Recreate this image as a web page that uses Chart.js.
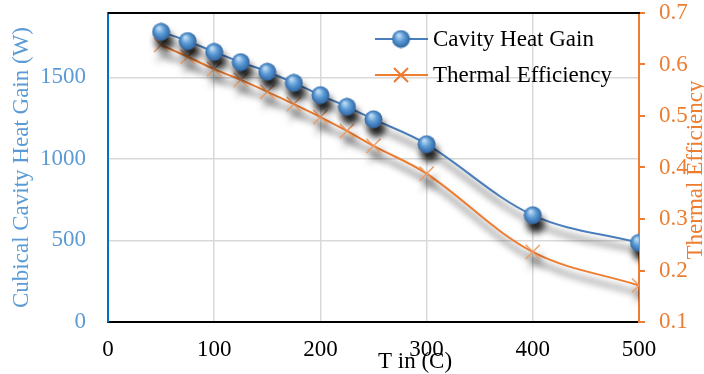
<!DOCTYPE html>
<html lang="en">
  <head>
    <meta charset="UTF-8" />
    <title>Cavity Heat Gain and Thermal Efficiency</title>
    <script src="https://cdn.jsdelivr.net/npm/chart.js"></script>
    <style>
      html, body { margin: 0; padding: 0; background: #fff; }
      #wrap { width: 704px; height: 374px; }
    </style>
  </head>
  <body>
    <div id="wrap"><canvas id="heatChart" width="704" height="374"></canvas></div>

    <script>
      // data
      const tempIn = [50, 75, 100, 125, 150, 175, 200, 225, 250, 300, 400, 500];
      const heatGain = [1779, 1722, 1656, 1593, 1534, 1466, 1391, 1319, 1243, 1090, 655, 485];
      const efficiency = [0.638, 0.615, 0.591, 0.57, 0.547, 0.523, 0.498, 0.471, 0.442, 0.388, 0.236, 0.171];
      const xTicks = [0, 100, 200, 300, 400, 500];
      const leftTicks = [0, 500, 1000, 1500];
      const rightTicks = [0.1, 0.2, 0.3, 0.4, 0.5, 0.6, 0.7];

      const FONT = "'Liberation Serif', 'DejaVu Serif', serif";
      const BLUE_LINE = "#4a7ebb";
      const ORANGE = "#ed7d31";

      // blue sphere marker
      function makeSphere(d) {
        const c = document.createElement("canvas");
        c.width = d;
        c.height = d;
        const g = c.getContext("2d");
        const r = d / 2;
        const grad = g.createRadialGradient(r * 0.75, r * 0.6, r * 0.1, r, r, r);
        grad.addColorStop(0, "#bcd8f2");
        grad.addColorStop(0.45, "#5b9bd5");
        grad.addColorStop(1, "#2a5f9e");
        g.fillStyle = grad;
        g.beginPath();
        g.arc(r, r, r - 0.5, 0, Math.PI * 2);
        g.fill();
        return c;
      }
      const sphere = makeSphere(19);

      const shadowPlugin = {
        id: "shadow",
        beforeDatasetDraw(chart) {
          const ctx = chart.ctx;
          ctx.save();
          ctx.shadowColor = "rgba(0,0,0,0.85)";
          ctx.shadowBlur = 7;
          ctx.shadowOffsetX = 3;
          ctx.shadowOffsetY = 9;
        },
        afterDatasetDraw(chart) {
          chart.ctx.restore();
        },
      };

      const extrasPlugin = {
        id: "extras",
        beforeDatasetsDraw(chart) {
          const ctx = chart.ctx;
          const a = chart.chartArea;
          ctx.save();
          ctx.strokeStyle = "#000";
          ctx.lineWidth = 2;
          ctx.beginPath();
          ctx.moveTo(a.left, a.top);
          ctx.lineTo(a.right + 1, a.top);
          ctx.stroke();
          ctx.restore();
        },
        afterDraw(chart) {
          const ctx = chart.ctx;
          ctx.save();
          ctx.font = "23px " + FONT;
          // legend
          const rows = [
            { y: 39, color: BLUE_LINE, text: "Cavity Heat Gain", sphere: true },
            { y: 75, color: ORANGE, text: "Thermal Efficiency", sphere: false },
          ];
          rows.forEach((r) => {
            ctx.strokeStyle = r.color;
            ctx.lineWidth = 2;
            ctx.beginPath();
            ctx.moveTo(375, r.y);
            ctx.lineTo(428, r.y);
            ctx.stroke();
            if (r.sphere) {
              ctx.drawImage(sphere, 401 - 9.5, r.y - 9.5);
            } else {
              ctx.strokeStyle = ORANGE;
              ctx.lineWidth = 2;
              ctx.beginPath();
              ctx.moveTo(394, r.y - 7); ctx.lineTo(408, r.y + 7);
              ctx.moveTo(408, r.y - 7); ctx.lineTo(394, r.y + 7);
              ctx.stroke();
            }
            ctx.fillStyle = "#000";
            ctx.textAlign = "left";
            ctx.textBaseline = "middle";
            ctx.fillText(r.text, 433, r.y + 1);
          });
          // x axis title
          ctx.fillStyle = "#000";
          ctx.textAlign = "center";
          ctx.textBaseline = "middle";
          ctx.fillText("T in (C)", 415, 362);
          // right axis title
          ctx.fillStyle = ORANGE;
          ctx.translate(696, 170);
          ctx.rotate(-Math.PI / 2);
          ctx.fillText("Thermal Efficiency", 0, 0);
          ctx.restore();
        },
      };

      const points = (xs, ys) => xs.map((x, i) => ({ x: x, y: ys[i] }));

      new Chart(document.getElementById("heatChart"), {
        type: "line",
        data: {
          datasets: [
            {
              label: "Cavity Heat Gain",
              data: points(tempIn, heatGain),
              yAxisID: "y",
              borderColor: BLUE_LINE,
              borderWidth: 2,
              pointStyle: sphere,
              pointRadius: 9,
              tension: 0.35,
              fill: false,
            },
            {
              label: "Thermal Efficiency",
              data: points(tempIn, efficiency),
              yAxisID: "y1",
              borderColor: ORANGE,
              borderWidth: 2,
              pointStyle: "crossRot",
              pointRadius: 10,
              pointBorderColor: "rgba(240,150,90,0.85)",
              pointBorderWidth: 1.5,
              tension: 0.35,
              fill: false,
            },
          ],
        },
        options: {
          responsive: false,
          animation: false,
          layout: { padding: { top: 13, left: 0, right: 0, bottom: 0 } },
          plugins: {
            legend: { display: false },
            tooltip: { enabled: false },
          },
          scales: {
            x: {
              type: "linear",
              min: 0,
              max: 500,
              afterBuildTicks: (s) => { s.ticks = xTicks.map((v) => ({ value: v })); },
              afterFit: (s) => { s.height = 52; s.paddingLeft = 0; s.paddingRight = 0; },
              grid: { color: "#d9d9d9", lineWidth: 1.5, drawTicks: false },
              border: { color: "#000", width: 2 },
              ticks: { color: "#000", font: { family: FONT, size: 23 }, padding: 14, maxRotation: 0 },
            },
            y: {
              position: "left",
              min: 0,
              max: 1894,
              afterBuildTicks: (s) => { s.ticks = leftTicks.map((v) => ({ value: v })); },
              afterFit: (s) => { s.width = 108; s.paddingTop = 0; s.paddingBottom = 0; },
              grid: { color: "#d9d9d9", lineWidth: 1.5, drawTicks: false },
              border: { color: "#0070c0", width: 2 },
              ticks: {
                color: "#5b9bd5",
                font: { family: FONT, size: 23 },
                padding: 22,
                callback: (v) => String(v),
              },
              title: {
                display: true,
                text: "Cubical Cavity Heat Gain (W)",
                color: "#5b9bd5",
                font: { family: FONT, size: 23 },
                padding: { top: 8, bottom: 0 },
              },
            },
            y1: {
              position: "right",
              min: 0.1,
              max: 0.7,
              afterBuildTicks: (s) => { s.ticks = rightTicks.map((v) => ({ value: v })); },
              afterFit: (s) => { s.width = 65; s.paddingTop = 0; s.paddingBottom = 0; },
              grid: { drawOnChartArea: false, color: ORANGE, tickLength: 6, lineWidth: 2 },
              border: { color: ORANGE, width: 2 },
              ticks: {
                color: ORANGE,
                font: { family: FONT, size: 23 },
                padding: 14,
                callback: (v) => v.toFixed(1),
              },
            },
          },
        },
        plugins: [shadowPlugin, extrasPlugin],
      });
    </script>
  </body>
</html>
